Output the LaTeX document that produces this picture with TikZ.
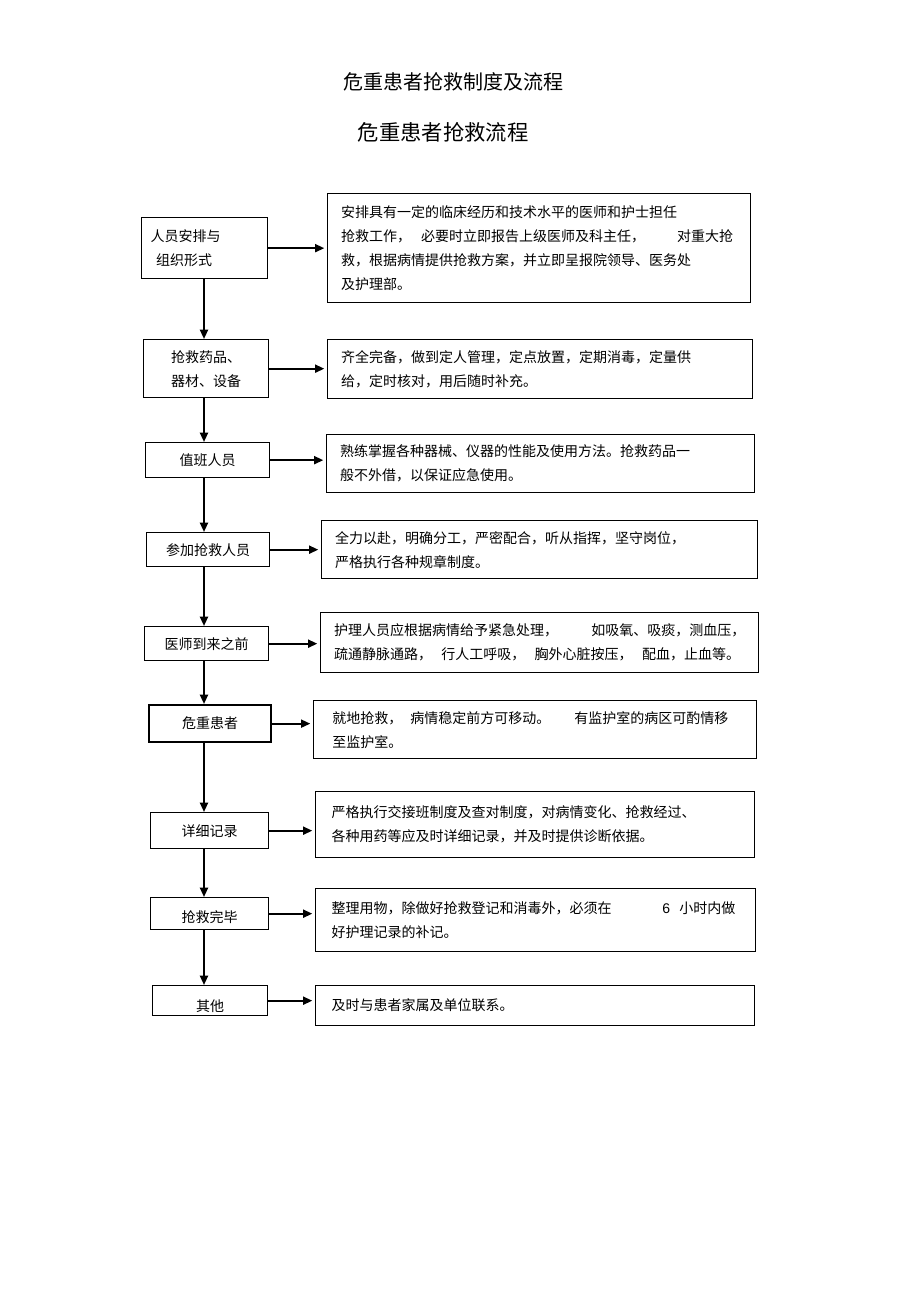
\documentclass[tikz,border=0pt]{standalone}
\usepackage{fontspec}
\setmainfont{Noto Sans CJK SC}
\newfontfamily\latinfont{Liberation Sans}
\usetikzlibrary{arrows.meta}

\begin{document}
\begin{tikzpicture}
	[x=0.75pt,y=-0.75pt,
	every node/.style={font=\fontsize{10.5pt}{18pt}\selectfont},
	leftBox/.style={draw,line width=1pt,anchor=north west,align=center,inner sep=0pt},
	rightBox/.style={draw,line width=1pt,anchor=north west,align=left,inner xsep=10pt,inner ysep=0pt},
	flow/.style={-{Triangle[length=7pt,width=6pt]},line width=1.5pt}]
	\useasboundingbox (0,0) rectangle (920,1303);
	
	\node[font=\fontsize{15pt}{18pt}\selectfont] (title) at (453,82) {危重患者抢救制度及流程};
	\node[font=\fontsize{16pt}{19pt}\selectfont] (subTitle) at (443,132) {危重患者抢救流程};
	\coordinate (spine) at (204,0);
	
	% steps on the left
	\node[leftBox,minimum width=94.5pt,minimum height=45.75pt,text width=81pt,align=left] (l1) at (141,217)
	{人员安排与\\\hspace{4pt}组织形式};
	\node[leftBox,minimum width=93.75pt,minimum height=43.5pt] (l2) at (143,339) {抢救药品、\\器材、设备};
	\node[leftBox,minimum width=93pt,minimum height=26.25pt] (l3) at (145,442) {值班人员};
	\node[leftBox,minimum width=92.25pt,minimum height=25.5pt] (l4) at (146,532) {参加抢救人员};
	\node[leftBox,minimum width=93pt,minimum height=25.5pt] (l5) at (144,626) {医师到来之前};
	\node[leftBox,line width=1.7pt,minimum width=91.5pt,minimum height=27.75pt] (l6) at (148,704) {危重患者};
	\node[leftBox,minimum width=88.5pt,minimum height=27pt] (l7) at (150,812) {详细记录};
	\node[leftBox,minimum width=88.5pt,minimum height=24pt] (l8) at (150,897) {\raisebox{-3.5pt}[8pt][2pt]{抢救完毕}};
	\node[leftBox,minimum width=86.25pt,minimum height=22.5pt] (l9) at (152,985) {\raisebox{-5pt}[8pt][2pt]{其他}};
	
	% details on the right
	\node[rightBox,minimum width=317.25pt,minimum height=81.75pt,text width=297.25pt] (r1) at (327,193)
	{安排具有一定的临床经历和技术水平的医师和护士担任\\
		抢救工作，\hspace{7.5pt}必要时立即报告上级医师及科主任，\hspace{24pt}对重大抢\\
		救，根据病情提供抢救方案，并立即呈报院领导、医务处\\
		及护理部。};
	\node[rightBox,minimum width=318.75pt,minimum height=44.25pt,text width=298.75pt] (r2) at (327,339)
	{齐全完备，做到定人管理，定点放置，定期消毒，定量供\\
		给，定时核对，用后随时补充。};
	\node[rightBox,minimum width=321pt,minimum height=43.5pt,text width=301pt] (r3) at (326,434)
	{熟练掌握各种器械、仪器的性能及使用方法。抢救药品一\\
		般不外借，以保证应急使用。};
	\node[rightBox,minimum width=327pt,minimum height=43.5pt,text width=307pt] (r4) at (321,520)
	{全力以赴，明确分工，严密配合，听从指挥，坚守岗位，\\
		严格执行各种规章制度。};
	\node[rightBox,minimum width=328.5pt,minimum height=45pt,text width=308.5pt] (r5) at (320,612)
	{护理人员应根据病情给予紧急处理，\hspace{25pt}如吸氧、吸痰，测血压，\\
		疏通静脉通路，\hspace{7pt}行人工呼吸，\hspace{7pt}胸外心脏按压，\hspace{7pt}配血，止血等。};
	\node[rightBox,inner xsep=14pt,minimum width=332.25pt,minimum height=43.5pt,text width=304.25pt] (r6) at (313,700)
	{就地抢救，\hspace{6pt}病情稳定前方可移动。\hspace{18pt}有监护室的病区可酌情移\\
		至监护室。};
	\node[rightBox,inner xsep=12pt,minimum width=329.25pt,minimum height=49.5pt,text width=305.25pt] (r7) at (315,791)
	{严格执行交接班制度及查对制度，对病情变化、抢救经过、\\
		各种用药等应及时详细记录，并及时提供诊断依据。};
	\node[rightBox,inner xsep=12pt,minimum width=330pt,minimum height=47.25pt,text width=306pt] (r8) at (315,888)
	{整理用物，除做好抢救登记和消毒外，必须在\hspace{38pt}{\latinfont 6}\hspace{7pt}小时内做\\
		好护理记录的补记。};
	\node[rightBox,inner xsep=12pt,minimum width=329.25pt,minimum height=30pt,text width=305.25pt] (r9) at (315,985)
	{及时与患者家属及单位联系。};
	
	\foreach \upperNode/\lowerNode in {l1/l2,l2/l3,l3/l4,l4/l5,l5/l6,l6/l7,l7/l8,l8/l9}
	{
		\draw[flow] (\upperNode.south -| spine) -- (\lowerNode.north -| spine);
	}
	\foreach \i in {1,...,9}
	{
		\draw[flow,shorten >=2pt] (l\i.east) -- (l\i.east -| r\i.west);
	}
\end{tikzpicture}
\end{document}
